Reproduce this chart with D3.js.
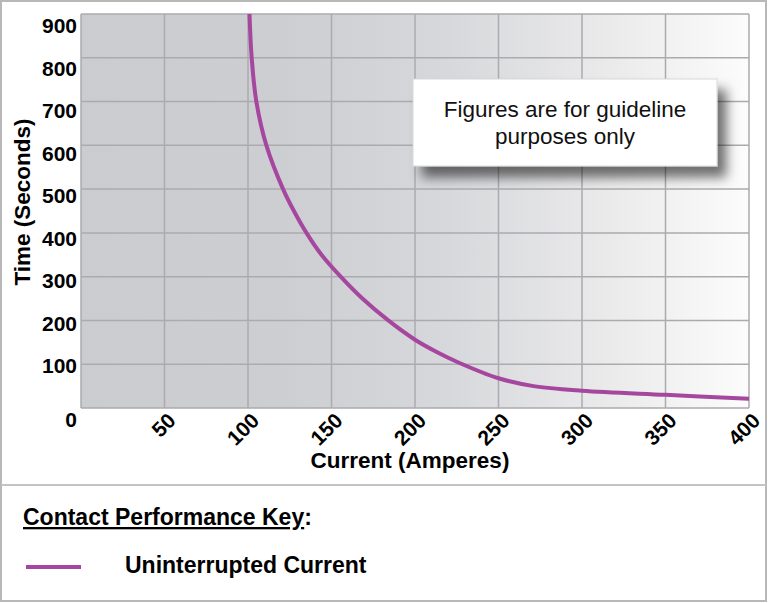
<!DOCTYPE html>
<html>
<head>
<meta charset="utf-8">
<script src="https://cdn.jsdelivr.net/npm/d3@7"></script>
<style>
  html, body { margin: 0; padding: 0; background: #fff; }
  svg { display: block; font-family: "Liberation Sans", Arial, Helvetica, sans-serif; }
</style>
</head>
<body>
<svg id="chart" width="768" height="603"></svg>
<script>
// ---- data ----
const current = [100.9, 102.2, 105.0, 111.0, 121.0, 127.5, 135.0, 144.0, 155.5, 168.5, 184.0, 200, 213, 226, 250, 271, 300, 350, 400];
const seconds = [900, 800, 700, 600, 500, 450, 400, 350, 300, 250, 200, 156, 128, 104, 68, 50, 39.5, 30, 21];
const xTicks = [50, 100, 150, 200, 250, 300, 350, 400];
const yTicks = [0, 100, 200, 300, 400, 500, 600, 700, 800, 900];
const xGrid = [0, 50, 100, 150, 200, 250, 300, 350, 400];
const seriesName = "Uninterrupted Current";
const xTitle = "Current (Amperes)";
const yTitle = "Time (Seconds)";
const noteLines = ["Figures are for guideline", "purposes only"];
const keyTitle = "Contact Performance Key";

(function () {
const svg = d3.select("#chart");
const W = 768, H = 603;
const pL = 81, pR = 749, pT = 14, pB = 408;
const curveColor = "#a6479f";

const x = d3.scaleLinear().domain([0, 400]).range([pL, pR]);
const y = d3.scaleLinear().domain([0, 900]).range([pB, pT]);
// label placement scale for the y tick labels (labels sit slightly off the grid in the original)
const yLab = d3.scaleLinear().domain([0, 100, 900]).range([420, 366, 26]);

const defs = svg.append("defs");
const grad = defs.append("linearGradient").attr("id", "bg").attr("x1", 0).attr("x2", 1).attr("y1", 0).attr("y2", 0);
[[0, "#cbccd0"], [0.3, "#cdced2"], [0.55, "#d7d8db"], [0.8, "#ebebec"], [1, "#fcfcfc"]]
  .forEach(([o, c]) => grad.append("stop").attr("offset", o).attr("stop-color", c));
const shadow = defs.append("filter").attr("id", "shadow").attr("x", "-20%").attr("y", "-30%").attr("width", "150%").attr("height", "180%");
shadow.append("feDropShadow").attr("dx", 9).attr("dy", 11).attr("stdDeviation", 6)
  .attr("flood-color", "#000").attr("flood-opacity", 0.55);
defs.append("clipPath").attr("id", "plotclip").append("rect")
  .attr("x", pL).attr("y", pT).attr("width", pR - pL).attr("height", pB - pT);

// outer frame
svg.append("rect").attr("x", 1).attr("y", 1).attr("width", W - 3).attr("height", H - 3)
  .attr("fill", "#fff").attr("stroke", "#b8b8b8").attr("stroke-width", 2);
svg.append("line").attr("x1", 1).attr("x2", W - 2).attr("y1", 485).attr("y2", 485)
  .attr("stroke", "#c4c4c4").attr("stroke-width", 2);

// plot background
svg.append("rect").attr("x", pL).attr("y", pT).attr("width", pR - pL).attr("height", pB - pT)
  .attr("fill", "url(#bg)");

// grid
const grid = svg.append("g").attr("stroke", "#ababaf").attr("stroke-width", 1.5);
grid.selectAll("line.v").data(xGrid).join("line").attr("class", "v")
  .attr("x1", d => x(d)).attr("x2", d => x(d)).attr("y1", pT).attr("y2", pB);
grid.selectAll("line.h").data(yTicks).join("line").attr("class", "h")
  .attr("x1", pL).attr("x2", pR).attr("y1", d => y(d)).attr("y2", d => y(d));

// note box
const note = svg.append("g");
note.append("rect").attr("x", 413).attr("y", 79).attr("width", 304).attr("height", 87)
  .attr("fill", "#fff").attr("stroke", "#d8d8d8").attr("stroke-width", 1).attr("filter", "url(#shadow)");
note.selectAll("text").data(noteLines).join("text")
  .attr("x", 565).attr("y", (d, i) => 117 + i * 27)
  .attr("text-anchor", "middle").attr("font-size", 22.5).attr("fill", "#111").text(d => d);

// curve
const pts = current.map((c, i) => [c, seconds[i]]);
svg.append("path").datum(pts)
  .attr("clip-path", "url(#plotclip)")
  .attr("fill", "none").attr("stroke", curveColor).attr("stroke-width", 4).attr("stroke-linecap", "round")
  .attr("d", d3.line().x(d => x(d[0])).y(d => y(d[1])).curve(d3.curveCatmullRom.alpha(0.5)));

// axes
const xAxis = svg.append("g").attr("transform", "translate(0,422)")
  .call(d3.axisBottom(x).tickValues(xTicks).tickSize(0).tickPadding(0).tickFormat(d3.format("d")));
xAxis.select(".domain").remove();
xAxis.selectAll("text")
  .attr("y", 0).attr("dy", 0)
  .attr("text-anchor", "end")
  .attr("transform", "translate(12,0) rotate(-45)")
  .attr("font-size", 21).attr("font-weight", "bold").attr("fill", "#000")
  .attr("font-family", "'Liberation Sans', Arial, sans-serif");

const yAxis = svg.append("g").attr("transform", "translate(77,0)")
  .call(d3.axisLeft(yLab).tickValues(yTicks).tickSize(0).tickPadding(0).tickFormat(d3.format("d")));
yAxis.select(".domain").remove();
yAxis.selectAll("text")
  .attr("font-size", 21).attr("font-weight", "bold").attr("fill", "#000")
  .attr("font-family", "'Liberation Sans', Arial, sans-serif");

// axis titles
svg.append("text").attr("x", 410).attr("y", 468).attr("text-anchor", "middle")
  .attr("font-size", 22.5).attr("font-weight", "bold").attr("fill", "#000").text(xTitle);
svg.append("text").attr("transform", "translate(30,202) rotate(-90)").attr("text-anchor", "middle")
  .attr("font-size", 22.5).attr("font-weight", "bold").attr("fill", "#000").text(yTitle);

// key
const key = svg.append("text").attr("x", 23).attr("y", 525)
  .attr("font-size", 23).attr("font-weight", "bold").attr("fill", "#000");
key.append("tspan").style("text-decoration", "underline").text(keyTitle);
key.append("tspan").text(":");

svg.append("line").attr("x1", 26).attr("x2", 81).attr("y1", 567).attr("y2", 567)
  .attr("stroke", curveColor).attr("stroke-width", 4);
svg.append("text").attr("x", 125).attr("y", 573)
  .attr("font-size", 23).attr("font-weight", "bold").attr("fill", "#000").text(seriesName);
})();
</script>
</body>
</html>
